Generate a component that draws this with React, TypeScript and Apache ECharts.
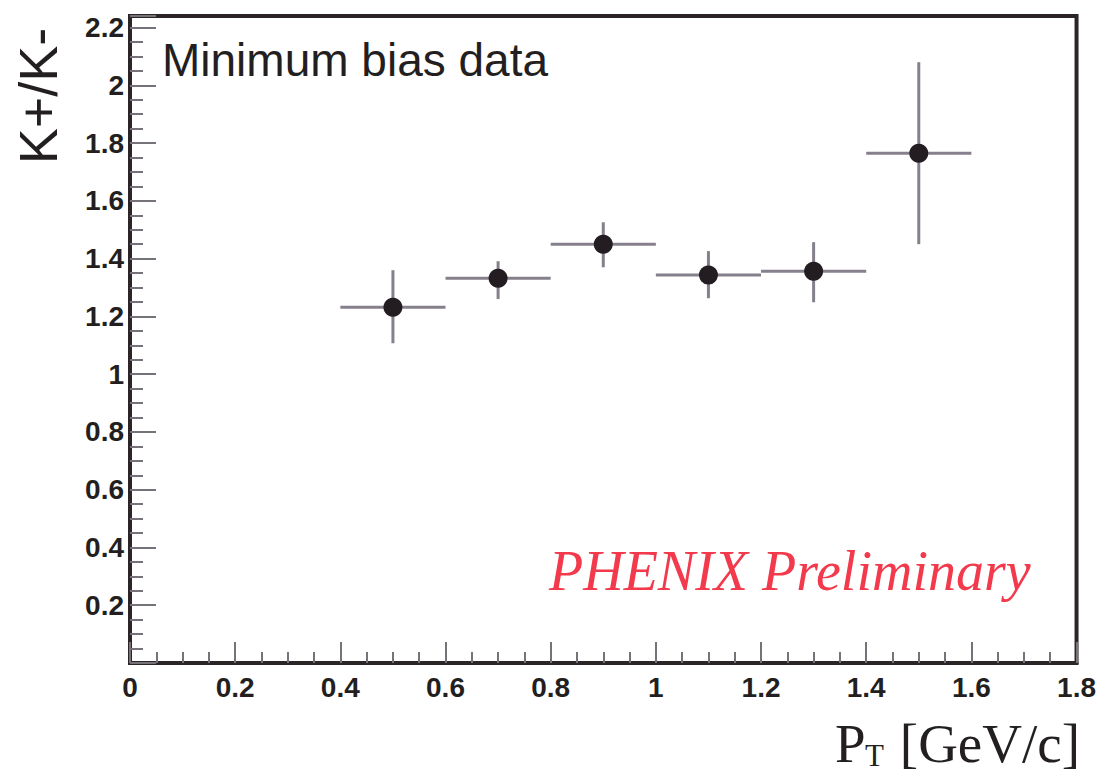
import React, { useEffect, useRef } from "react";
import * as echarts from "echarts";

// Data
const ptCenters = [0.5, 0.7, 0.9, 1.1, 1.3, 1.5];
const binLow = [0.4, 0.6, 0.8, 1.0, 1.2, 1.4];
const binHigh = [0.6, 0.8, 1.0, 1.2, 1.4, 1.6];
const ratio = [1.232, 1.332, 1.45, 1.343, 1.356, 1.765];
const errDown = [0.125, 0.072, 0.08, 0.08, 0.107, 0.315];
const errUp = [0.128, 0.059, 0.076, 0.083, 0.101, 0.315];

const xTickMin = 0;
const xTickMax = 1.8;
const yTickMax = 2.24;
const tickStep = 0.2;

const titleText = "Minimum bias data";
const watermarkText = "PHENIX Preliminary";
const yName = "K+/K-";

export default function App() {
  const ref = useRef<HTMLDivElement>(null);
  useEffect(() => {
    document.body.style.margin = "0";
    if (!ref.current) return;
    const chart = echarts.init(ref.current, null, { renderer: "svg" });
    const errData = ptCenters.map((x, i) => [
      x,
      ratio[i],
      binLow[i],
      binHigh[i],
      ratio[i] - errDown[i],
      ratio[i] + errUp[i],
    ]);
    const pts = ptCenters.map((x, i) => [x, ratio[i]]);
    const axisColor = "#2b2528";
    const tickColor = "#77717a";
    const labelFont = {
      fontFamily: "Liberation Sans, Arial, sans-serif",
      fontWeight: "bold" as const,
      fontSize: 28,
      color: "#231f20",
    };
    chart.setOption({
      animation: false,
      backgroundColor: "#ffffff",
      grid: {
        left: 130,
        right: 20,
        top: 16,
        bottom: 109,
        show: true,
        borderColor: axisColor,
        borderWidth: 4,
      },
      xAxis: {
        type: "value",
        min: xTickMin,
        max: xTickMax,
        interval: tickStep,
        axisLine: { show: true, onZero: false, lineStyle: { color: axisColor, width: 4 } },
        axisTick: { show: true, inside: true, length: 21, lineStyle: { color: tickColor, width: 2 } },
        minorTick: { show: true, splitNumber: 4, length: 11, lineStyle: { color: tickColor, width: 2 } },
        splitLine: { show: false },
        axisLabel: {
          ...labelFont,
          margin: 10,
          formatter: (v: number) => String(Math.round(v * 10) / 10),
        },
      },
      yAxis: {
        type: "value",
        min: 0,
        max: yTickMax,
        interval: tickStep,
        axisLine: { show: true, onZero: false, lineStyle: { color: axisColor, width: 4 } },
        axisTick: { show: true, inside: true, length: 26, lineStyle: { color: tickColor, width: 2 } },
        minorTick: { show: true, splitNumber: 4, length: 13, lineStyle: { color: tickColor, width: 2 } },
        splitLine: { show: false },
        axisLabel: {
          ...labelFont,
          margin: 6,
          showMaxLabel: false,
          formatter: (v: number) => {
            if (v === 0) return "";
            const k = Math.round(v / tickStep);
            if (Math.abs(k * tickStep - v) > 1e-6) return "";
            return String(Math.round(v * 10) / 10);
          },
        },
      },
      series: [
        {
          type: "custom",
          data: errData,
          renderItem: (params: any, api: any) => {
            const x = api.value(0);
            const y = api.value(1);
            const l = api.coord([api.value(2), y]);
            const r = api.coord([api.value(3), y]);
            const b = api.coord([x, api.value(4)]);
            const t = api.coord([x, api.value(5)]);
            const stroke = "#85808c";
            return {
              type: "group",
              children: [
                { type: "line", shape: { x1: l[0], y1: l[1], x2: r[0], y2: r[1] }, style: { stroke, lineWidth: 3 } },
                { type: "line", shape: { x1: t[0], y1: t[1], x2: b[0], y2: b[1] }, style: { stroke, lineWidth: 3 } },
              ],
            };
          },
          z: 2,
        },
        {
          type: "scatter",
          data: pts,
          symbol: "circle",
          symbolSize: 19,
          itemStyle: { color: "#231d22", opacity: 1 },
          z: 3,
        },
      ],
      graphic: [
        {
          type: "text",
          left: 162,
          top: 37,
          style: {
            text: titleText,
            font: "46px 'Liberation Sans', Arial, sans-serif",
            fill: "#231f20",
          },
        },
        {
          type: "text",
          x: 549,
          y: 571,
          style: {
            text: watermarkText,
            font: "italic 56px 'Liberation Serif', 'Times New Roman', serif",
            fill: "#f23a4c",
            textAlign: "left",
            textVerticalAlign: "middle",
          },
        },
        {
          type: "text",
          x: 38,
          y: 96,
          rotation: Math.PI / 2,
          style: {
            text: yName,
            font: "54px 'Liberation Sans', Arial, sans-serif",
            fill: "#231f20",
            textAlign: "center",
            textVerticalAlign: "middle",
          },
        },
        {
          type: "text",
          x: 835,
          y: 743,
          style: {
            text: "P",
            font: "55px 'Liberation Serif', 'Times New Roman', serif",
            fill: "#231f20",
            textAlign: "left",
            textVerticalAlign: "middle",
          },
        },
        {
          type: "text",
          x: 865,
          y: 755,
          style: {
            text: "T",
            font: "31px 'Liberation Serif', 'Times New Roman', serif",
            fill: "#231f20",
            textAlign: "left",
            textVerticalAlign: "middle",
          },
        },
        {
          type: "text",
          x: 1080,
          y: 743,
          style: {
            text: "[GeV/c]",
            font: "55px 'Liberation Serif', 'Times New Roman', serif",
            fill: "#231f20",
            textAlign: "right",
            textVerticalAlign: "middle",
          },
        },
      ],
    });
    return () => chart.dispose();
  }, []);
  return <div ref={ref} style={{ width: 1099, height: 772 }} />;
}
